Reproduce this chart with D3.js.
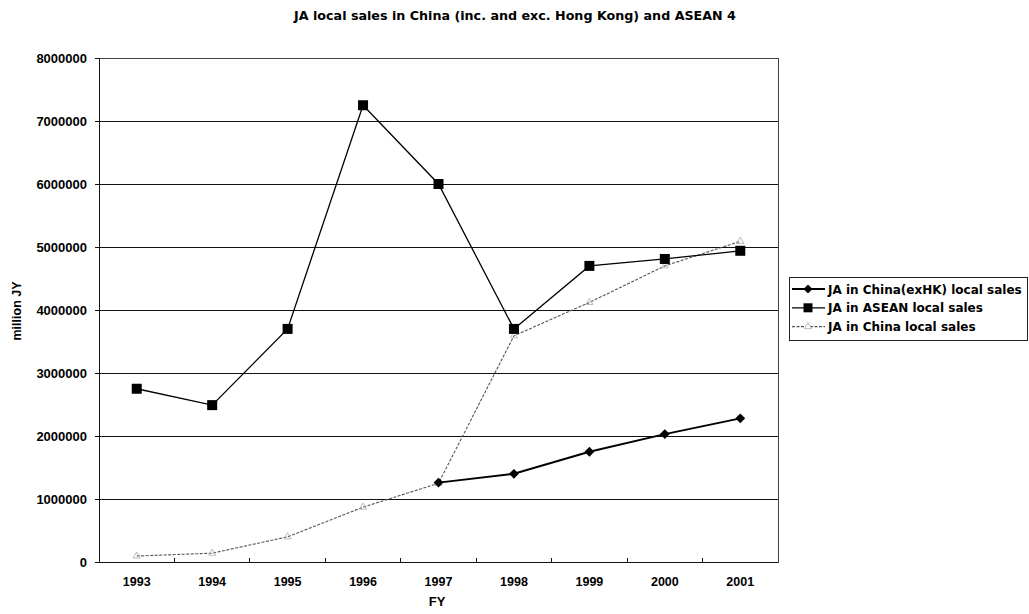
<!DOCTYPE html>
<html>
<head>
<meta charset="utf-8">
<script src="https://cdn.jsdelivr.net/npm/d3@7"></script>
<style>
  body { margin: 0; background: #fff; }
  svg { display: block; font-family: "Liberation Sans", Arial, sans-serif; }
</style>
</head>
<body>
<svg id="chart" width="1029" height="614"></svg>
<script>
// Fiscal years on the x axis
const years = ["1993", "1994", "1995", "1996", "1997", "1998", "1999", "2000", "2001"];

// Local sales, million JY (null = no figure reported)
const chinaExHK = [null, null, null, null, 1260000, 1400000, 1750000, 2030000, 2280000];
const asean = [2750000, 2490000, 3700000, 7250000, 6000000, 3700000, 4700000, 4810000, 4940000];
const chinaAll = [95000, 140000, 400000, 870000, 1250000, 3590000, 4120000, 4700000, 5090000];

const yTicks = [0, 1000000, 2000000, 3000000, 4000000, 5000000, 6000000, 7000000, 8000000];
const seriesNames = ["JA in China(exHK) local sales", "JA in ASEAN local sales", "JA in China local sales"];

const svg = d3.select("#chart");
const plot = { left: 99, right: 778, top: 58, bottom: 562 };

const x = d3.scaleBand().domain(years).range([plot.left, plot.right]).padding(0);
const y = d3.scaleLinear().domain([0, 8000000]).range([plot.bottom, plot.top]);

// Title
svg.append("text")
  .attr("x", 515).attr("y", 20)
  .attr("text-anchor", "middle")
  .style("font-family", "'DejaVu Sans', sans-serif")
  .style("font-size", "12.7px").style("font-weight", "bold")
  .text("JA local sales in China (inc. and exc. Hong Kong) and ASEAN 4");

// Horizontal gridlines
svg.append("g")
  .selectAll("line")
  .data(yTicks.slice(1))
  .join("line")
  .attr("x1", plot.left).attr("x2", plot.right)
  .attr("y1", d => y(d)).attr("y2", d => y(d))
  .attr("stroke", "#111").attr("stroke-width", 1)
  .attr("shape-rendering", "crispEdges");

// Plot frame
svg.append("rect")
  .attr("x", plot.left).attr("y", plot.top)
  .attr("width", plot.right - plot.left).attr("height", plot.bottom - plot.top)
  .attr("fill", "none").attr("stroke", "#444").attr("stroke-width", 1)
  .attr("shape-rendering", "crispEdges");

// Y axis
const yAxis = svg.append("g")
  .attr("transform", `translate(${plot.left},0)`)
  .call(d3.axisLeft(y).tickValues(yTicks).tickFormat(d3.format("d")).tickSize(4).tickSizeOuter(0));
yAxis.select(".domain").attr("stroke", "#111");
yAxis.selectAll(".tick line").attr("stroke", "#111");
yAxis.selectAll("text")
  .attr("x", -12)
  .style("font-size", "13px").style("font-weight", "bold").attr("fill", "#000");

// X axis: ticks sit on band boundaries, pointing into the plot
const xAxis = svg.append("g")
  .attr("transform", `translate(0,${plot.bottom})`)
  .call(d3.axisBottom(x).tickSize(0).tickSizeOuter(0));
xAxis.select(".domain").attr("stroke", "#111");
xAxis.selectAll("text")
  .attr("dy", "1.7em")
  .style("font-size", "12.5px").style("font-weight", "bold").attr("fill", "#000");
svg.append("g")
  .selectAll("line")
  .data(years.slice(1))
  .join("line")
  .attr("x1", d => x(d)).attr("x2", d => x(d))
  .attr("y1", plot.bottom).attr("y2", plot.bottom - 4)
  .attr("stroke", "#111").attr("shape-rendering", "crispEdges");

// Axis titles
svg.append("text")
  .attr("x", 437).attr("y", 606)
  .attr("text-anchor", "middle")
  .style("font-size", "13px").style("font-weight", "bold")
  .text("FY");
svg.append("text")
  .attr("transform", "translate(21,311) rotate(-90)")
  .attr("text-anchor", "middle")
  .style("font-size", "12.5px").style("font-weight", "bold")
  .text("million JY");

const cx = d => x(d) + x.bandwidth() / 2;
const line = d3.line()
  .defined(d => d.v !== null)
  .x(d => cx(d.year))
  .y(d => y(d.v));

const pts = arr => years.map((yr, i) => ({ year: yr, v: arr[i] }));

// China (all) - thin grey dashed line with faint triangle markers
svg.append("path")
  .datum(pts(chinaAll))
  .attr("d", line)
  .attr("fill", "none").attr("stroke", "#555").attr("stroke-width", 1.1)
  .attr("stroke-dasharray", "3,1.5");
svg.append("g")
  .selectAll("path")
  .data(pts(chinaAll))
  .join("path")
  .attr("transform", d => `translate(${cx(d.year)},${y(d.v)})`)
  .attr("d", d3.symbol(d3.symbolTriangle, 22))
  .attr("fill", "none").attr("stroke", "#aaa").attr("stroke-width", 0.8);

// ASEAN - black line with square markers
svg.append("path")
  .datum(pts(asean))
  .attr("d", line)
  .attr("fill", "none").attr("stroke", "#000").attr("stroke-width", 1.3);
svg.append("g")
  .selectAll("rect")
  .data(pts(asean))
  .join("rect")
  .attr("x", d => cx(d.year) - 5).attr("y", d => y(d.v) - 5)
  .attr("width", 10).attr("height", 10)
  .attr("fill", "#000");

// China excluding Hong Kong - black line with diamond markers
svg.append("path")
  .datum(pts(chinaExHK))
  .attr("d", line)
  .attr("fill", "none").attr("stroke", "#000").attr("stroke-width", 2);
svg.append("g")
  .selectAll("path")
  .data(pts(chinaExHK).filter(d => d.v !== null))
  .join("path")
  .attr("transform", d => `translate(${cx(d.year)},${y(d.v)}) rotate(45)`)
  .attr("d", d3.symbol(d3.symbolSquare, 48))
  .attr("fill", "#000");

// Legend
const lg = svg.append("g").attr("transform", "translate(789,277)");
lg.append("rect")
  .attr("x", 0).attr("y", 0).attr("width", 238).attr("height", 63)
  .attr("fill", "#fff").attr("stroke", "#222").attr("shape-rendering", "crispEdges");
const rows = lg.selectAll("g.item").data(seriesNames).join("g")
  .attr("class", "item")
  .attr("transform", (d, i) => `translate(0,${12 + i * 18.8})`);
rows.append("line")
  .attr("x1", 3).attr("x2", 36).attr("y1", 0).attr("y2", 0)
  .attr("stroke", (d, i) => i === 2 ? "#555" : "#000")
  .attr("stroke-width", (d, i) => i === 0 ? 2 : (i === 1 ? 1.3 : 1.1))
  .attr("stroke-dasharray", (d, i) => i === 2 ? "3,1.5" : null);
rows.filter((d, i) => i === 0).append("path")
  .attr("transform", "translate(19,0) rotate(45)")
  .attr("d", d3.symbol(d3.symbolSquare, 40)).attr("fill", "#000");
rows.filter((d, i) => i === 1).append("rect")
  .attr("x", 14.5).attr("y", -4.5).attr("width", 9).attr("height", 9).attr("fill", "#000");
rows.filter((d, i) => i === 2).append("path")
  .attr("transform", "translate(19,0)")
  .attr("d", d3.symbol(d3.symbolTriangle, 22))
  .attr("fill", "#fff").attr("stroke", "#aaa").attr("stroke-width", 0.8);
rows.append("text")
  .attr("x", 39).attr("y", 4.5)
  .style("font-family", "'DejaVu Sans', sans-serif")
  .style("font-size", "12px").style("font-weight", "bold")
  .text(d => d);
</script>
</body>
</html>
